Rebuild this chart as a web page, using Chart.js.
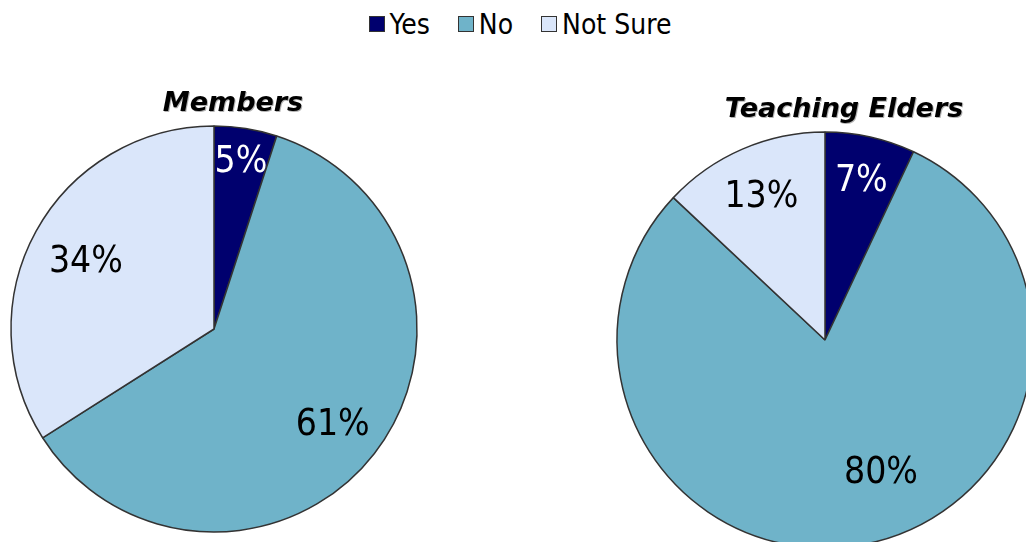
<!DOCTYPE html>
<html>
<head>
<meta charset="utf-8">
<script src="https://cdn.jsdelivr.net/npm/chart.js@4.4.0/dist/chart.umd.min.js"></script>
<style>
  html, body { margin: 0; padding: 0; width: 1026px; height: 542px; overflow: hidden; background: #fff; }
  #legend { position: absolute; left: 0; top: 1px; width: 1040px; height: 46px; display: flex;
            justify-content: center; align-items: center; font-family: 'DejaVu Sans Condensed', 'Liberation Sans', sans-serif;
            font-size: 28px; color: #000; }
  .item { display: flex; align-items: center; margin: 0 14px; }
  .swatch { width: 14px; height: 14px; border: 1.5px solid #333; margin-right: 5px; }
  #membersChart { position: absolute; left: 0; top: 0; }
  #eldersChart { position: absolute; left: 575px; top: 0; }
</style>
</head>
<body>
<div id="legend"></div>
<canvas id="membersChart" width="428" height="658"></canvas>
<canvas id="eldersChart" width="500" height="680"></canvas>
<script>
const categories = ["Yes", "No", "Not Sure"];
const membersValues = [5, 61, 34];
const eldersValues = [7, 80, 13];
const chartTitles = ["Members", "Teaching Elders"];
const sliceColors = ["#00006e", "#6fb3c9", "#dae6fa"];

const labelSize = 37;
const labelFont = labelSize + "px 'DejaVu Sans Condensed', 'Liberation Sans', sans-serif";
const titleFont = "bold italic 27px 'DejaVu Sans', Verdana, sans-serif";

// html legend, shared by both pies
const legend = document.getElementById("legend");
categories.forEach((name, i) => {
    const item = document.createElement("div");
    item.className = "item";
    item.innerHTML = `<span class="swatch" style="background:${sliceColors[i]}"></span><span>${name}</span>`;
    legend.appendChild(item);
});

// percent labels and the chart title, placed from the arc geometry
const sliceLabels = {
    id: "sliceLabels",
    afterDatasetsDraw(chart, args, opts) {
        const ctx = chart.ctx;
        const arcs = chart.getDatasetMeta(0).data;
        const values = chart.data.datasets[0].data;
        ctx.save();
        ctx.font = labelFont;
        ctx.textAlign = "center";
        ctx.textBaseline = "alphabetic";
        arcs.forEach((arc, i) => {
            const place = opts.place[i];
            const mid = (arc.startAngle + arc.endAngle) / 2 + (place.turn || 0) * Math.PI / 180;
            const dist = arc.outerRadius * place.r;
            ctx.fillStyle = opts.colors[i];
            // baseline sits half a cap height below the target centre
            ctx.fillText(values[i] + "%", arc.x + Math.cos(mid) * dist,
                arc.y + Math.sin(mid) * dist + labelSize * 0.365);
        });
        const first = arcs[0];
        ctx.font = titleFont;
        ctx.textBaseline = "middle";
        ctx.fillStyle = "#000";
        ctx.shadowColor = "rgba(0,0,0,0.3)";
        ctx.shadowOffsetX = 1;
        ctx.shadowOffsetY = 1;
        ctx.fillText(opts.title, first.x + opts.titleShift, first.y - first.outerRadius - opts.titleGap);
        ctx.restore();
    }
};

function makePie(canvasId, values, title, radius, place) {
    return new Chart(document.getElementById(canvasId), {
        type: "pie",
        data: {
            labels: categories,
            datasets: [{
                data: values,
                backgroundColor: sliceColors,
                borderColor: "#333333",
                borderWidth: 1.5
            }]
        },
        options: {
            responsive: false,
            animation: false,
            radius: radius,
            layout: { padding: 0 },
            plugins: {
                legend: { display: false },
                tooltip: { enabled: false },
                sliceLabels: {
                    place: place,
                    colors: ["#ffffff", "#000000", "#000000"],
                    title: title,
                    titleShift: 19,
                    titleGap: 22
                }
            }
        },
        plugins: [sliceLabels]
    });
}

makePie("membersChart", membersValues, chartTitles[0], 203,
    [{ r: 0.85 }, { r: 0.74 }, { r: 0.72 }]);
makePie("eldersChart", eldersValues, chartTitles[1], 208,
    [{ r: 0.8 }, { r: 0.68, turn: -12.5 }, { r: 0.77 }]);
</script>
</body>
</html>
